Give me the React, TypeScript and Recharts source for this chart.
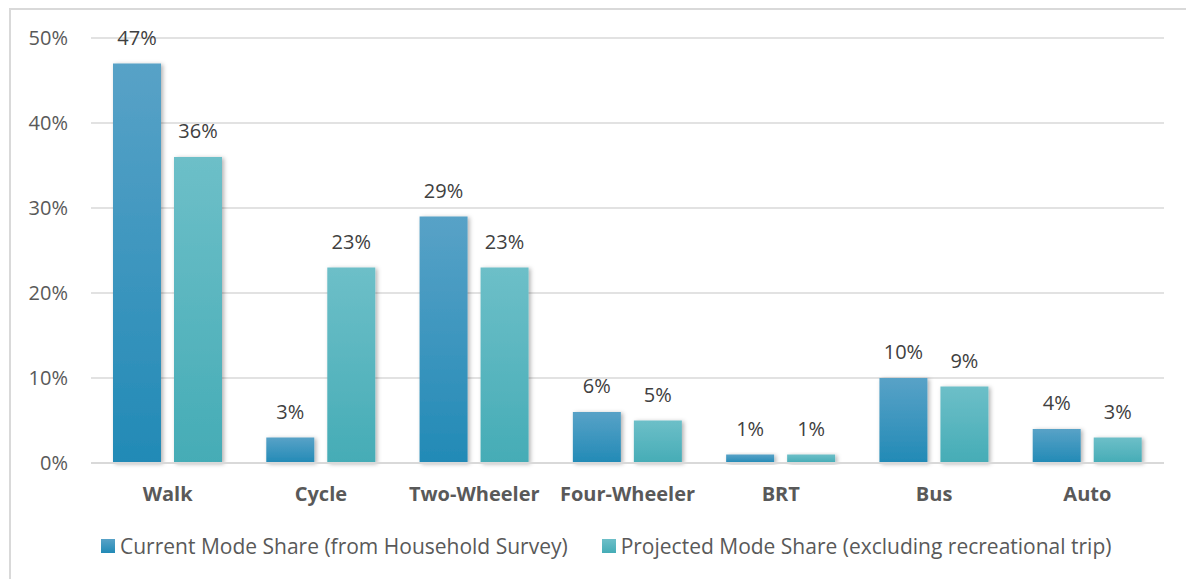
import React from 'react';
import {
  BarChart,
  Bar,
  XAxis,
  YAxis,
  CartesianGrid,
  LabelList,
} from 'recharts';

const categories = ['Walk', 'Cycle', 'Two-Wheeler', 'Four-Wheeler', 'BRT', 'Bus', 'Auto'];
const currentShare = [47, 3, 29, 6, 1, 10, 4];
const projectedShare = [36, 23, 23, 5, 1, 9, 3];
const yTicks = [0, 10, 20, 30, 40, 50];

const SERIES = [
  { key: 'current', name: 'Current Mode Share (from Household Survey)', top: '#58A2C7', bottom: '#228AB6' },
  { key: 'projected', name: 'Projected Mode Share (excluding recreational trip)', top: '#6DBFC8', bottom: '#45ACB6' },
];

const data = categories.map((name, i) => ({
  name,
  current: currentShare[i],
  projected: projectedShare[i],
}));

const FONT = '"Open Sans", sans-serif';

const App = () => {
  return (
    <div
      style={{
        position: 'absolute',
        left: 0,
        top: 0,
        width: 1186,
        height: 579,
        overflow: 'hidden',
        background: '#fff',
        fontFamily: FONT,
      }}
    >
      <style>{`.recharts-bar-rectangle path { filter: url(#barShadow); }`}</style>
      {/* outer frame, runs off the right and bottom edge */}
      <div
        style={{
          position: 'absolute',
          left: 9,
          top: 8,
          width: 1250,
          height: 650,
          border: '2px solid #d9d9d9',
        }}
      />
      <div style={{ position: 'absolute', left: 0, top: 0 }}>
        <BarChart
          width={1186}
          height={579}
          data={data}
          margin={{ top: 38, right: 22, left: 31, bottom: 86 }}
          barSize={48}
          barGap={13}
        >
          <defs>
            {SERIES.map((s) => (
              <linearGradient key={s.key} id={`grad-${s.key}`} x1="0" y1="0" x2="0" y2="1">
                <stop offset="0%" stopColor={s.top} />
                <stop offset="100%" stopColor={s.bottom} />
              </linearGradient>
            ))}
            <filter id="barShadow" x="-20%" y="-20%" width="140%" height="140%">
              <feDropShadow dx="2" dy="1" stdDeviation="2" floodColor="#000" floodOpacity="0.3" />
            </filter>
          </defs>
          <CartesianGrid vertical={false} stroke="#d9d9d9" strokeWidth={1.5} />
          <XAxis
            dataKey="name"
            axisLine={{ stroke: '#d9d9d9', strokeWidth: 2 }}
            tickLine={false}
            tickMargin={18}
            tick={{ fill: '#595959', fontSize: 20, fontWeight: 700, fontFamily: FONT }}
            interval={0}
          />
          <YAxis
            domain={[0, 50]}
            ticks={yTicks}
            width={60}
            axisLine={false}
            tickLine={false}
            tickMargin={17}
            tickFormatter={(v) => `${v}%`}
            tick={{ fill: '#595959', fontSize: 20, fontFamily: FONT }}
          />
          {SERIES.map((s) => (
            <Bar
              key={s.key}
              dataKey={s.key}
              name={s.name}
              fill={`url(#grad-${s.key})`}
              isAnimationActive={false}
            >
              <LabelList
                dataKey={s.key}
                position="top"
                offset={19}
                formatter={(v) => `${v}%`}
                style={{ fill: '#404040', fontSize: 20, fontFamily: FONT }}
              />
            </Bar>
          ))}
        </BarChart>
      </div>
      {/* legend */}
      <div
        style={{
          position: 'absolute',
          left: 101,
          top: 532,
          display: 'flex',
          alignItems: 'center',
          color: '#595959',
          fontSize: 21,
          whiteSpace: 'nowrap',
        }}
      >
        {SERIES.map((s, i) => (
          <div
            key={s.key}
            style={{ display: 'flex', alignItems: 'center', marginRight: i === 0 ? 34 : 0 }}
          >
            <span
              style={{
                display: 'inline-block',
                width: 14,
                height: 14,
                marginRight: 5,
                background: `linear-gradient(${s.top}, ${s.bottom})`,
              }}
            />
            <span>{s.name}</span>
          </div>
        ))}
      </div>
    </div>
  );
};

export default App;
